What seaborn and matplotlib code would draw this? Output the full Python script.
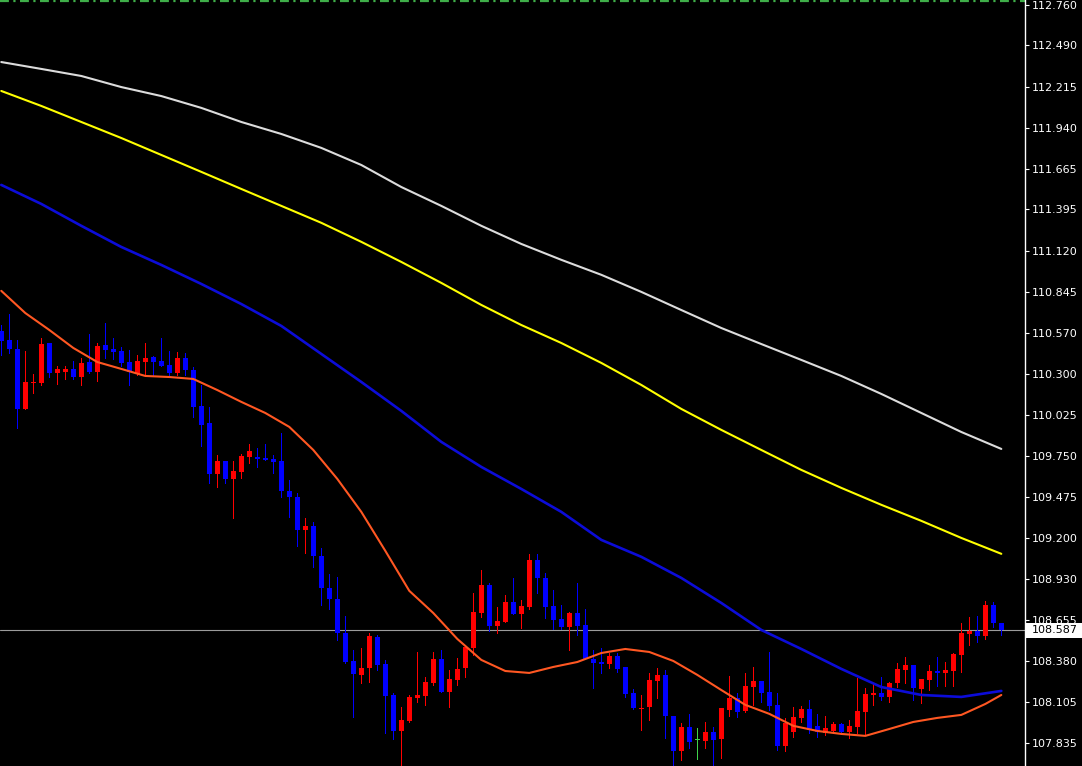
import numpy as np
import pandas as pd
import matplotlib
matplotlib.use("Agg")
import matplotlib.pyplot as plt
import matplotlib.transforms as mtransforms
from matplotlib.patches import Rectangle
import seaborn as sns

# ==========================================
# candle data, bar 0 = first visible bar on the left
# ==========================================
opens = [110.586, 110.524, 110.464, 110.064, 110.237, 110.237, 110.504, 110.304, 110.311, 110.331,
         110.277, 110.377, 110.311, 110.491, 110.464, 110.451, 110.377, 110.297, 110.377, 110.411,
         110.384, 110.357, 110.304, 110.404, 110.324, 110.084, 109.971, 109.630, 109.717, 109.597,
         109.644, 109.744, 109.744, 109.737, 109.730, 109.717, 109.517, 109.477, 109.257, 109.284,
         109.083, 108.870, 108.796, 108.569, 108.382, 108.289, 108.335, 108.542, 108.362, 108.155,
         107.915, 107.982, 108.135, 108.148, 108.235, 108.395, 108.175, 108.255, 108.335, 108.469,
         108.702, 108.890, 108.616, 108.642, 108.776, 108.696, 108.742, 109.057, 108.936, 108.749,
         108.662, 108.609, 108.702, 108.622, 108.395, 108.375, 108.362, 108.415, 108.342, 108.168,
         108.062, 108.075, 108.248, 108.289, 108.015, 107.781, 107.942, 107.855, 107.848, 107.908,
         107.862, 108.055, 108.135, 108.049, 108.208, 108.248, 108.175, 108.089, 107.815, 107.908,
         108.002, 108.062, 107.949, 107.902, 107.915, 107.962, 107.908, 107.942, 108.042, 108.155,
         108.168, 108.142, 108.235, 108.322, 108.355, 108.195, 108.255, 108.315, 108.302, 108.315,
         108.422, 108.562, 108.582, 108.549, 108.756, 108.636]
highs = [110.624, 110.698, 110.524, 110.451, 110.297, 110.537, 110.504, 110.351, 110.351, 110.384,
         110.404, 110.564, 110.504, 110.638, 110.537, 110.477, 110.457, 110.424, 110.504, 110.417,
         110.537, 110.451, 110.444, 110.437, 110.344, 110.224, 110.077, 109.757, 109.717, 109.717,
         109.764, 109.830, 109.804, 109.830, 109.757, 109.904, 109.590, 109.503, 109.337, 109.310,
         109.137, 108.963, 108.943, 108.682, 108.455, 108.469, 108.569, 108.555, 108.389, 108.168,
         108.075, 108.155, 108.442, 108.275, 108.442, 108.455, 108.322, 108.402, 108.489, 108.836,
         108.990, 108.903, 108.742, 108.823, 108.936, 108.789, 109.097, 109.097, 108.970, 108.856,
         108.756, 108.709, 108.903, 108.729, 108.455, 108.469, 108.435, 108.435, 108.342, 108.195,
         108.155, 108.302, 108.335, 108.322, 108.015, 107.969, 108.029, 107.935, 107.975, 107.942,
         108.069, 108.282, 108.168, 108.302, 108.342, 108.248, 108.442, 108.168, 108.002, 108.075,
         108.082, 108.122, 108.029, 108.015, 107.975, 107.969, 107.989, 108.268, 108.202, 108.235,
         108.275, 108.242, 108.369, 108.409, 108.355, 108.262, 108.355, 108.409, 108.375, 108.435,
         108.636, 108.676, 108.682, 108.782, 108.776, 108.636]
lows = [110.424, 110.437, 109.937, 110.064, 110.170, 110.224, 110.277, 110.230, 110.264, 110.264,
        110.224, 110.304, 110.250, 110.404, 110.397, 110.351, 110.224, 110.291, 110.284, 110.284,
        110.351, 110.291, 110.291, 110.291, 110.011, 109.817, 109.570, 109.543, 109.570, 109.337,
        109.603, 109.704, 109.677, 109.724, 109.637, 109.477, 109.344, 109.150, 109.103, 109.010,
        108.756, 108.729, 108.522, 108.369, 108.009, 108.235, 108.242, 108.322, 107.902, 107.862,
        107.675, 107.975, 108.109, 108.089, 108.222, 108.175, 108.075, 108.222, 108.275, 108.422,
        108.676, 108.582, 108.569, 108.642, 108.696, 108.602, 108.729, 108.836, 108.669, 108.595,
        108.595, 108.455, 108.555, 108.395, 108.202, 108.302, 108.335, 108.309, 108.142, 108.062,
        107.922, 107.989, 108.135, 107.868, 107.675, 107.722, 107.802, 107.728, 107.802, 107.675,
        107.735, 108.015, 108.009, 108.042, 108.089, 108.109, 108.055, 107.788, 107.781, 107.875,
        107.975, 107.902, 107.875, 107.888, 107.902, 107.902, 107.868, 107.902, 107.888, 108.089,
        108.122, 108.109, 108.208, 108.235, 108.122, 108.102, 108.188, 108.215, 108.215, 108.215,
        108.309, 108.489, 108.509, 108.529, 108.609, 108.555]
closes = [110.519, 110.464, 110.064, 110.244, 110.244, 110.497, 110.304, 110.331, 110.331, 110.277,
          110.371, 110.311, 110.484, 110.457, 110.444, 110.371, 110.311, 110.384, 110.404, 110.377,
          110.351, 110.304, 110.404, 110.324, 110.077, 109.957, 109.630, 109.717, 109.597, 109.650,
          109.750, 109.784, 109.730, 109.724, 109.710, 109.517, 109.477, 109.257, 109.284, 109.083,
          108.870, 108.796, 108.569, 108.375, 108.295, 108.335, 108.549, 108.355, 108.148, 107.915,
          107.989, 108.142, 108.155, 108.242, 108.395, 108.175, 108.262, 108.329, 108.475, 108.709,
          108.890, 108.616, 108.649, 108.776, 108.696, 108.749, 109.057, 108.936, 108.742, 108.656,
          108.609, 108.702, 108.616, 108.395, 108.369, 108.362, 108.415, 108.329, 108.162, 108.069,
          108.069, 108.255, 108.289, 108.015, 107.781, 107.942, 107.842, 107.855, 107.908, 107.855,
          108.069, 108.135, 108.042, 108.215, 108.248, 108.168, 108.082, 107.815, 107.969, 108.009,
          108.062, 107.922, 107.908, 107.935, 107.962, 107.908, 107.949, 108.049, 108.162, 108.168,
          108.142, 108.235, 108.329, 108.355, 108.202, 108.262, 108.315, 108.302, 108.322, 108.429,
          108.569, 108.582, 108.549, 108.756, 108.636, 108.587]

# moving averages
ma_bars = list(range(0, 126, 5))
white_ma = [112.379, 112.333, 112.286, 112.212, 112.152, 112.073, 111.979, 111.899, 111.806, 111.692,
            111.545, 111.419, 111.286, 111.165, 111.059, 110.959, 110.845, 110.724, 110.604, 110.497,
            110.391, 110.284, 110.164, 110.037, 109.910, 109.797]
yellow_ma = [112.186, 112.086, 111.979, 111.872, 111.759, 111.646, 111.532, 111.419, 111.306, 111.179,
             111.045, 110.905, 110.758, 110.624, 110.504, 110.371, 110.224, 110.064, 109.924, 109.790,
             109.657, 109.537, 109.424, 109.317, 109.203, 109.097]
blue_ma = [111.559, 111.432, 111.286, 111.145, 111.025, 110.898, 110.764, 110.618, 110.431, 110.244,
           110.051, 109.844, 109.677, 109.530, 109.377, 109.190, 109.077, 108.936, 108.769, 108.589,
           108.462, 108.329, 108.208, 108.155, 108.142, 108.182]
orange_bars = list(range(0, 124, 3)) + [125]
orange_ma = [110.852, 110.704, 110.591, 110.471, 110.377, 110.331, 110.284, 110.277, 110.264, 110.190,
             110.111, 110.037, 109.944, 109.790, 109.597, 109.377, 109.117, 108.850, 108.702, 108.529,
             108.389, 108.315, 108.302, 108.342, 108.375, 108.435, 108.462, 108.442, 108.382, 108.289,
             108.188, 108.089, 108.029, 107.949, 107.915, 107.895, 107.882, 107.928, 107.975, 108.002,
             108.022, 108.095, 108.155]

last_price = 108.587
top_level = 112.783
price_ticks = [112.760, 112.490, 112.215, 111.940, 111.665, 111.395, 111.120, 110.845, 110.570,
               110.300, 110.025, 109.750, 109.475, 109.200, 108.930, 108.655, 108.380, 108.105, 107.835]

# ==========================================
# figure
# ==========================================
sns.set_theme(style="dark", rc={"axes.facecolor": "black", "figure.facecolor": "black"})
plt.rcParams['font.family'] = ['DejaVu Sans']

W, H = 1082, 766
fig = plt.figure(figsize=(W / 100, H / 100), dpi=100)
ax = fig.add_axes([0, 0, 1025 / W, 1])
ax.set_facecolor("black")

df = pd.DataFrame({"bar": np.arange(len(opens)), "open": opens, "high": highs,
                   "low": lows, "close": closes})
df["color"] = np.where(df["close"] > df["open"], "#ff0000",
                       np.where(df["close"] < df["open"], "#0000ff", "#3fd34a"))

# level line on top and current price line
ax.axhline(top_level, color="#3fae49", linewidth=1.6, linestyle=(0, (4, 2, 1, 2)), zorder=1)
ax.axhline(last_price, color="#9c9c9c", linewidth=0.8, zorder=1)

# candles (crisp pixels like the terminal)
ax.vlines(df["bar"], df["low"], df["high"], colors=df["color"], linewidth=0.7,
          antialiased=False, zorder=2)
body_lo = np.minimum(df["open"], df["close"])
body_h = np.maximum((df["close"] - df["open"]).abs(), 0.007)
ax.bar(df["bar"], body_h, bottom=body_lo, width=0.6, color=df["color"], linewidth=0,
       antialiased=False, zorder=3)

# moving averages
sns.lineplot(x=ma_bars, y=white_ma, ax=ax, color="#dcdcdc", linewidth=1.5, zorder=4)
sns.lineplot(x=ma_bars, y=yellow_ma, ax=ax, color="#ffff00", linewidth=1.5, zorder=4)
sns.lineplot(x=ma_bars, y=blue_ma, ax=ax, color="#0c0cd8", linewidth=1.9, zorder=4)
sns.lineplot(x=orange_bars, y=orange_ma, ax=ax, color="#ff5722", linewidth=1.5, zorder=4)

ax.set_xlim(-0.16, 127.96)
ax.set_ylim(107.681, 112.793)
ax.grid(False)

# right price scale
for side in ["left", "top", "bottom"]:
    ax.spines[side].set_visible(False)
ax.spines["right"].set_visible(True)
ax.spines["right"].set_color("white")
ax.spines["right"].set_linewidth(1.0)
ax.set_xticks([])
ax.yaxis.tick_right()
ax.set_yticks(price_ticks)
ax.set_yticklabels([f"{t:.3f}" for t in price_ticks])
ax.tick_params(axis="y", colors="white", labelcolor="white", length=3, width=0.8,
               pad=2, labelsize=8, right=True, left=False)
ax.set_xlabel("")
ax.set_ylabel("")

# current price box
trans = mtransforms.blended_transform_factory(ax.transAxes, ax.transData)
ax.add_patch(Rectangle((1026 / 1025, last_price - 0.05), 56 / 1025, 0.1, transform=trans,
                       facecolor="white", edgecolor="none", clip_on=False, zorder=10))
ax.text(1032 / 1025, last_price, f"{last_price:.3f}", transform=trans, ha="left", va="center",
        fontsize=8, color="black", clip_on=False, zorder=11)

fig.savefig("out.png", dpi=100, facecolor="black")
plt.close(fig)
